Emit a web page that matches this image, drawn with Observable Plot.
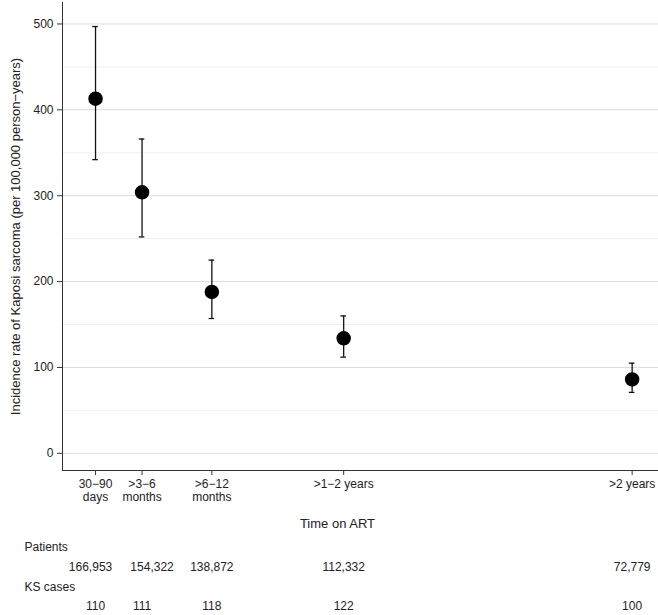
<!DOCTYPE html>
<html><head><meta charset="utf-8">
<script src="https://cdn.jsdelivr.net/npm/d3@7"></script>
<script src="https://cdn.jsdelivr.net/npm/@observablehq/plot@0.6"></script>
<style>body{margin:0;background:#fff;font-family:"Liberation Sans",Arial,sans-serif}</style>
</head><body><div id="chart"></div>
<script>
const periods = ["30−90\ndays", ">3−6\nmonths", ">6−12\nmonths", ">1−2 years", ">2 years"];
const months = [2, 5, 9.5, 18, 36.6];
const rate = [413, 304, 188, 134, 86];
const lower = [342, 252, 157, 112, 71];
const upper = [497, 366, 225, 160, 105];
const patients = ["166,953", "154,322", "138,872", "112,332", "72,779"];
const ksCases = ["110", "111", "118", "122", "100"];

const data = periods.map((p, i) => ({i, p, t: months[i], rate: rate[i], lo: lower[i], hi: upper[i], pat: patients[i], ks: ksCases[i]}));
const cap = 0.18; // half width of whisker caps, in months

const chart = Plot.plot({
  width: 658, height: 615,
  marginLeft: 62, marginRight: 0, marginTop: 2, marginBottom: 145,
  style: {fontFamily: "Liberation Sans, Arial, sans-serif", fontSize: "12px", color: "#222"},
  x: {type: "linear", domain: [-0.13, 38.3], label: null},
  y: {domain: [-20, 525], label: null},
  marks: [
    Plot.ruleY([50, 150, 250, 350, 450], {stroke: "#f0f0f0"}),
    Plot.ruleY([0, 100, 200, 300, 400, 500], {stroke: "#dcdcdc"}),
    Plot.axisY({ticks: [0, 100, 200, 300, 400, 500], tickSize: 5, fontSize: 12, label: null, stroke: "#333"}),
    Plot.axisX({ticks: months, tickFormat: d => periods[months.indexOf(d)], tickSize: 5, fontSize: 12, label: null, lineHeight: 1.05, stroke: "#333"}),
    Plot.ruleX([-0.13], {stroke: "#333"}),
    Plot.ruleY([-20], {stroke: "#333"}),
    Plot.ruleX(data, {x: "t", y1: "lo", y2: "hi", stroke: "#111", strokeWidth: 1.3}),
    Plot.ruleY(data, {y: "lo", x1: d => d.t - cap, x2: d => d.t + cap, stroke: "#111", strokeWidth: 1.3}),
    Plot.ruleY(data, {y: "hi", x1: d => d.t - cap, x2: d => d.t + cap, stroke: "#111", strokeWidth: 1.3}),
    Plot.dot(data, {x: "t", y: "rate", r: 6.5, fill: "#000", stroke: "#000"}),
    Plot.text(["Incidence rate of Kaposi sarcoma (per 100,000 person−years)"], {frameAnchor: "left", dx: -47, rotate: -90, textAnchor: "middle", fontSize: 13, fill: "#222"}),
    Plot.text(["Time on ART"], {x: 17.6, frameAnchor: "bottom", dy: 57, fontSize: 13, fill: "#222"}),
    Plot.text(["Patients"], {frameAnchor: "bottom-left", dx: -38, dy: 80, textAnchor: "start", fontSize: 12, fill: "#222"}),
    Plot.text(data.filter(d => d.i === 0), {x: "t", text: "pat", frameAnchor: "bottom", dy: 100, dx: -5, fontSize: 12, fill: "#222"}),
    Plot.text(data.filter(d => d.i === 1), {x: "t", text: "pat", frameAnchor: "bottom", dy: 100, dx: 10, fontSize: 12, fill: "#222"}),
    Plot.text(data.filter(d => d.i > 1), {x: "t", text: "pat", frameAnchor: "bottom", dy: 100, fontSize: 12, fill: "#222"}),
    Plot.text(["KS cases"], {frameAnchor: "bottom-left", dx: -38, dy: 120, textAnchor: "start", fontSize: 12, fill: "#222"}),
    Plot.text(data, {x: "t", text: "ks", frameAnchor: "bottom", dy: 139, fontSize: 12, fill: "#222"})
  ]
});
d3.select("#chart").append(() => chart);
</script></body></html>
